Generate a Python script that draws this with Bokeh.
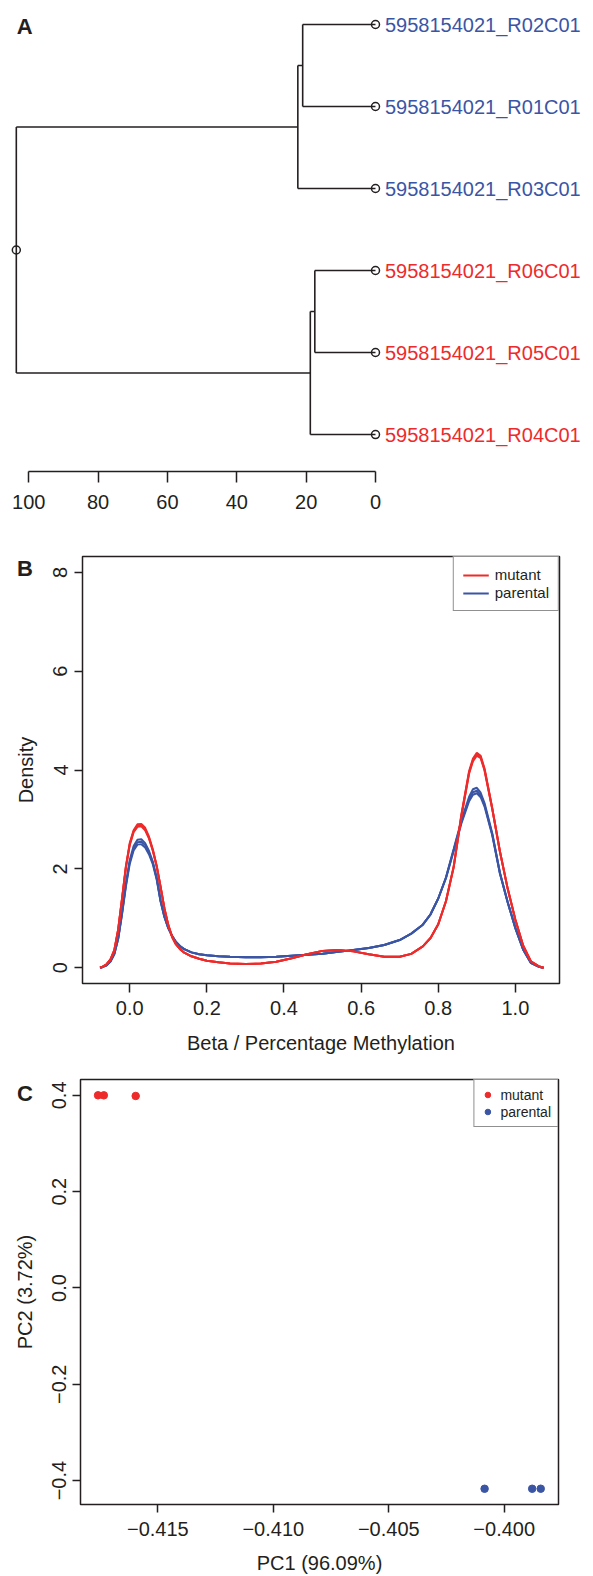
from bokeh.plotting import figure
from bokeh.models import Range1d, FixedTicker, Label, Legend, LegendItem, ColumnDataSource, Div
from bokeh.embed import file_html
from bokeh.resources import INLINE
from bokeh.core.properties import value

FONT = "Liberation Sans"
INK = "#231F20"
RED = "#EE2B2B"
BLUE = "#3B55A5"

# ---------------- Panel A : dendrogram ----------------
leaf_names = ["5958154021_R02C01", "5958154021_R01C01", "5958154021_R03C01",
              "5958154021_R06C01", "5958154021_R05C01", "5958154021_R04C01"]
leaf_groups = ["parental", "parental", "parental", "mutant", "mutant", "mutant"]
# merge steps: negative = leaf (1-based, top to bottom), positive = earlier step
merge_a = [-1, -4, 1, 2, 3]
merge_b = [-2, -5, -3, -6, 4]
merge_height = [21.0, 17.5, 22.4, 18.8, 103.6]
dend_ticks = [0, 20, 40, 60, 80, 100]
dend_tick_labels = ["0", "20", "40", "60", "80", "100"]

# ---------------- Panel B : density ----------------
dens_x = [-0.077, -0.07, -0.06, -0.05, -0.04, -0.03, -0.02, -0.01, 0.0, 0.01,
          0.02, 0.03, 0.04, 0.05, 0.06, 0.07, 0.08, 0.09, 0.10, 0.11,
          0.12, 0.13, 0.14, 0.16, 0.18, 0.20, 0.23, 0.26, 0.30, 0.34,
          0.38, 0.42, 0.46, 0.50, 0.54, 0.58, 0.62, 0.66, 0.70, 0.73,
          0.76, 0.78, 0.80, 0.82, 0.84, 0.86, 0.88, 0.89, 0.90, 0.91,
          0.92, 0.94, 0.96, 0.98, 1.00, 1.02, 1.04, 1.06, 1.073]
mutant_1 = [0.00, 0.02, 0.07, 0.17, 0.36, 0.78, 1.40, 2.05, 2.52, 2.78,
            2.90, 2.91, 2.83, 2.65, 2.39, 2.06, 1.64, 1.20, 0.86, 0.62,
            0.47, 0.38, 0.31, 0.23, 0.18, 0.14, 0.11, 0.085, 0.075, 0.085,
            0.12, 0.19, 0.27, 0.34, 0.36, 0.33, 0.27, 0.22, 0.22, 0.28,
            0.43, 0.60, 0.88, 1.35, 2.05, 3.10, 3.98, 4.23, 4.35, 4.29,
            4.03, 3.23, 2.35, 1.60, 0.97, 0.45, 0.13, 0.03, 0.00]
mutant_2 = [0.00, 0.02, 0.07, 0.17, 0.35, 0.77, 1.39, 2.04, 2.50, 2.76,
            2.87, 2.88, 2.80, 2.63, 2.37, 2.05, 1.63, 1.20, 0.86, 0.62,
            0.47, 0.38, 0.31, 0.23, 0.18, 0.14, 0.11, 0.085, 0.075, 0.085,
            0.12, 0.19, 0.27, 0.34, 0.36, 0.33, 0.27, 0.22, 0.22, 0.28,
            0.43, 0.60, 0.88, 1.35, 2.04, 3.08, 3.95, 4.20, 4.32, 4.26,
            4.01, 3.22, 2.35, 1.60, 0.97, 0.45, 0.13, 0.03, 0.00]
mutant_3 = [0.00, 0.02, 0.07, 0.16, 0.35, 0.76, 1.38, 2.02, 2.48, 2.74,
            2.85, 2.86, 2.78, 2.61, 2.36, 2.04, 1.63, 1.19, 0.86, 0.62,
            0.47, 0.38, 0.31, 0.23, 0.18, 0.14, 0.11, 0.085, 0.075, 0.085,
            0.12, 0.19, 0.27, 0.34, 0.36, 0.33, 0.27, 0.22, 0.22, 0.28,
            0.43, 0.60, 0.88, 1.34, 2.03, 3.06, 3.93, 4.18, 4.29, 4.24,
            3.99, 3.21, 2.34, 1.60, 0.97, 0.45, 0.13, 0.03, 0.00]
parental_1 = [0.00, 0.015, 0.05, 0.13, 0.28, 0.60, 1.12, 1.70, 2.18, 2.46,
              2.59, 2.60, 2.52, 2.36, 2.14, 1.82, 1.36, 1.03, 0.80, 0.64,
              0.52, 0.44, 0.38, 0.31, 0.27, 0.25, 0.23, 0.22, 0.21, 0.21,
              0.22, 0.24, 0.26, 0.28, 0.32, 0.36, 0.40, 0.46, 0.56, 0.69,
              0.87, 1.08, 1.40, 1.83, 2.40, 2.98, 3.46, 3.61, 3.64, 3.54,
              3.33, 2.72, 1.92, 1.33, 0.80, 0.37, 0.10, 0.02, 0.00]
parental_2 = [0.00, 0.015, 0.05, 0.13, 0.28, 0.59, 1.10, 1.67, 2.14, 2.41,
              2.54, 2.55, 2.48, 2.33, 2.12, 1.80, 1.35, 1.03, 0.80, 0.64,
              0.52, 0.44, 0.38, 0.31, 0.27, 0.25, 0.23, 0.22, 0.21, 0.21,
              0.22, 0.24, 0.26, 0.28, 0.32, 0.36, 0.40, 0.46, 0.56, 0.69,
              0.87, 1.08, 1.40, 1.82, 2.38, 2.95, 3.41, 3.55, 3.58, 3.49,
              3.29, 2.70, 1.91, 1.33, 0.80, 0.37, 0.10, 0.02, 0.00]
parental_3 = [0.00, 0.015, 0.05, 0.12, 0.27, 0.58, 1.08, 1.64, 2.10, 2.37,
              2.49, 2.50, 2.43, 2.29, 2.09, 1.78, 1.34, 1.02, 0.80, 0.64,
              0.52, 0.44, 0.38, 0.31, 0.27, 0.25, 0.23, 0.22, 0.21, 0.21,
              0.22, 0.24, 0.26, 0.28, 0.32, 0.36, 0.40, 0.46, 0.56, 0.69,
              0.87, 1.08, 1.40, 1.81, 2.36, 2.92, 3.37, 3.50, 3.53, 3.45,
              3.26, 2.68, 1.90, 1.32, 0.80, 0.37, 0.10, 0.02, 0.00]
dens_xticks = [0.0, 0.2, 0.4, 0.6, 0.8, 1.0]
dens_xtick_labels = ["0.0", "0.2", "0.4", "0.6", "0.8", "1.0"]
dens_yticks = [0, 2, 4, 6, 8]
dens_ytick_labels = ["0", "2", "4", "6", "8"]

# ---------------- Panel C : PCA ----------------
pc1_mutant = [-0.41759, -0.41734, -0.41596]
pc2_mutant = [0.4001, 0.4000, 0.3987]
pc1_parental = [-0.40085, -0.39879, -0.39842]
pc2_parental = [-0.4169, -0.4169, -0.4168]
pc_xticks = [-0.415, -0.410, -0.405, -0.400]
pc_xtick_labels = ["\u22120.415", "\u22120.410", "\u22120.405", "\u22120.400"]
pc_yticks = [-0.4, -0.2, 0.0, 0.2, 0.4]
pc_ytick_labels = ["\u22120.4", "\u22120.2", "0.0", "0.2", "0.4"]

group_color = {"mutant": RED, "parental": BLUE}


def style_axis(ax, tick_out, standoff, title_standoff=8):
    ax.axis_line_color = INK
    ax.axis_line_width = 1.5
    ax.major_tick_line_color = INK
    ax.major_tick_line_width = 1.5
    ax.major_tick_out = tick_out
    ax.major_tick_in = 0
    ax.minor_tick_line_color = None
    ax.major_label_text_font = FONT
    ax.major_label_text_font_size = "20px"
    ax.major_label_text_color = INK
    ax.major_label_standoff = standoff
    ax.axis_label_text_font = FONT
    ax.axis_label_text_font_size = "20px"
    ax.axis_label_text_font_style = "normal"
    ax.axis_label_text_color = INK
    ax.axis_label_standoff = title_standoff


def base_fig(**kw):
    p = figure(output_backend="svg", toolbar_location=None, width=593, **kw)
    p.xgrid.visible = False
    p.ygrid.visible = False
    p.background_fill_color = "white"
    p.border_fill_color = "white"
    return p


# ===== Figure A (page y 0..535) =====
pA = base_fig(height=535, x_range=Range1d(108.16, -62.88), y_range=Range1d(6.451, 0.7073),
              y_axis_location=None, min_border_left=0, min_border_right=0,
              min_border_top=0, min_border_bottom=64)
pA.outline_line_color = None

node_y, node_h = {}, {}


def child_pos(c):
    if c < 0:
        return float(-c), 0.0
    return node_y[c], node_h[c]


sx0, sy0, sx1, sy1 = [], [], [], []
for k, (a, b, h) in enumerate(zip(merge_a, merge_b, merge_height), start=1):
    ya, ha = child_pos(a)
    yb, hb = child_pos(b)
    sx0 += [ha, hb, h]
    sy0 += [ya, yb, ya]
    sx1 += [h, h, h]
    sy1 += [ya, yb, yb]
    node_y[k] = (ya + yb) / 2.0
    node_h[k] = h
root = len(merge_height)

pA.segment(x0=sx0, y0=sy0, x1=sx1, y1=sy1, line_color=INK, line_width=1.6)
leaf_pos = [float(i + 1) for i in range(len(leaf_names))]
leaf_h = [0.0] * len(leaf_names)
pA.scatter(leaf_h, leaf_pos, marker="circle", size=8, fill_color=None,
           line_color=INK, line_width=1.5)
pA.scatter([node_h[root]], [node_y[root]], marker="circle", size=8, fill_color=None,
           line_color=INK, line_width=1.5)
srcA = ColumnDataSource(dict(x=leaf_h, y=leaf_pos, t=leaf_names,
                             c=[group_color[g] for g in leaf_groups]))
pA.text(x="x", y="y", text="t", text_color="c", source=srcA, x_offset=9.5,
        text_font=value(FONT), text_font_size="20px", text_baseline="middle",
        text_align="left")
axA = pA.xaxis[0]
style_axis(axA, 11, 12)
axA.bounds = (0, 100)
axA.ticker = FixedTicker(ticks=dend_ticks)
axA.major_label_overrides = {t: l for t, l in zip(dend_ticks, dend_tick_labels)}
pA.add_layout(Label(x=101.2, y=1.03, text="A", text_font=FONT, text_font_size="22px",
                    text_font_style="bold", text_color=INK, text_align="center",
                    text_baseline="middle"))

# ===== Figure B (page y 535..1060) =====
pB = base_fig(height=525, x_range=Range1d(-0.1225, 1.1144), y_range=Range1d(-0.32, 8.32),
              min_border_left=82, min_border_right=34, min_border_top=21, min_border_bottom=77)
pB.outline_line_color = INK
pB.outline_line_width = 1.5
rp = [pB.line(dens_x, ys, line_color=BLUE, line_width=2) for ys in (parental_1, parental_2, parental_3)]
rm = [pB.line(dens_x, ys, line_color=RED, line_width=2) for ys in (mutant_1, mutant_2, mutant_3)]
style_axis(pB.xaxis[0], 9, 8, 14)
style_axis(pB.yaxis[0], 8, 7, 14)
pB.xaxis[0].axis_line_color = None
pB.yaxis[0].axis_line_color = None
pB.xaxis[0].ticker = FixedTicker(ticks=dens_xticks)
pB.xaxis[0].major_label_overrides = {t: l for t, l in zip(dens_xticks, dens_xtick_labels)}
pB.yaxis[0].ticker = FixedTicker(ticks=dens_yticks)
pB.yaxis[0].major_label_overrides = {t: l for t, l in zip(dens_yticks, dens_ytick_labels)}
pB.yaxis[0].major_label_orientation = "vertical"
pB.xaxis[0].axis_label = "Beta / Percentage Methylation"
pB.yaxis[0].axis_label = "Density"
legB = Legend(items=[LegendItem(label="mutant", renderers=[rm[0]]),
                     LegendItem(label="parental", renderers=[rp[0]])],
              location="top_right", margin=0, padding=9, spacing=1, glyph_width=26,
              glyph_height=16, label_height=16, label_standoff=6,
              label_text_font=FONT, label_text_font_size="15px", label_text_color=INK,
              border_line_color=INK, border_line_width=1.5, background_fill_color="white",
              background_fill_alpha=1.0)
pB.add_layout(legB)

# ===== Figure C (page y 1060..1576) =====
pC = base_fig(height=516, x_range=Range1d(-0.41835, -0.39765), y_range=Range1d(-0.4496, 0.4329),
              min_border_left=80, min_border_right=35, min_border_top=19, min_border_bottom=69)
pC.outline_line_color = INK
pC.outline_line_width = 1.5
rcm = pC.scatter(pc1_mutant, pc2_mutant, marker="circle", size=7.5, fill_color=RED, line_color=RED)
rcp = pC.scatter(pc1_parental, pc2_parental, marker="circle", size=7.5, fill_color=BLUE, line_color=BLUE)
style_axis(pC.xaxis[0], 8, 9, 13)
style_axis(pC.yaxis[0], 8, 6, 14)
pC.xaxis[0].axis_line_color = None
pC.yaxis[0].axis_line_color = None
pC.xaxis[0].ticker = FixedTicker(ticks=pc_xticks)
pC.xaxis[0].major_label_overrides = {t: l for t, l in zip(pc_xticks, pc_xtick_labels)}
pC.yaxis[0].ticker = FixedTicker(ticks=pc_yticks)
pC.yaxis[0].major_label_overrides = {t: l for t, l in zip(pc_yticks, pc_ytick_labels)}
pC.yaxis[0].major_label_orientation = "vertical"
pC.xaxis[0].axis_label = "PC1 (96.09%)"
pC.yaxis[0].axis_label = "PC2 (3.72%)"
legC = Legend(items=[LegendItem(label="mutant", renderers=[rcm]),
                     LegendItem(label="parental", renderers=[rcp])],
              location="top_right", margin=0, padding=6, spacing=0, glyph_width=14,
              glyph_height=17, label_height=17, label_standoff=6,
              label_text_font=FONT, label_text_font_size="14px", label_text_color=INK,
              border_line_color=INK, border_line_width=1.5, background_fill_color="white",
              background_fill_alpha=1.0)
pC.add_layout(legC)


def panel_letter(txt, left, top):
    html = ('<span style="font-family:\'Liberation Sans\';font-size:22px;font-weight:bold;'
            'color:#231F20;line-height:26px;">%s</span>' % txt)
    return Div(text=html, width=24, height=26,
               styles={"position": "absolute", "left": "%dpx" % left, "top": "%dpx" % top,
                       "margin": "0", "padding": "0"})


letterB = panel_letter("B", 17, 556)
letterC = panel_letter("C", 17, 1081)

open("out.html", "w").write(file_html([pA, pB, pC, letterB, letterC], INLINE))
